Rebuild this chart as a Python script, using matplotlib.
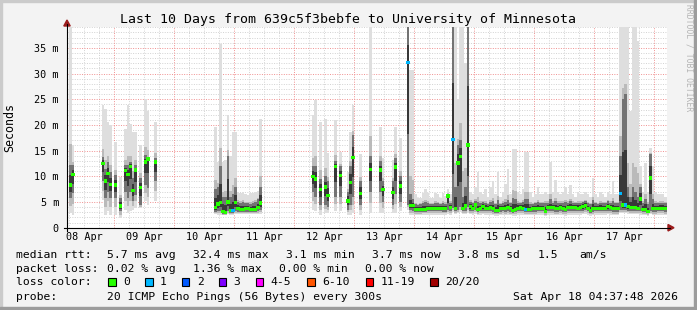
import numpy as np
import matplotlib
matplotlib.use("Agg")
import matplotlib.pyplot as plt
from matplotlib.lines import Line2D
from matplotlib.patches import Polygon, Rectangle

# hourly steps, counted in hours from 08 Apr 00:00
hours = ([6, 7,
          19, 20, 21, 22, 24, 26, 28, 29, 30, 31, 32, 34, 36, 37, 40]
         + list(range(64, 83))
         + [103, 104, 106, 108, 109, 112, 114, 117, 118, 119, 122, 126, 130, 131, 135, 136, 138, 141]
         + list(range(142, 245)))

# median rtt (ms)
med = [8.3, 10.3,
       12.5, 9.1, 10.6, 8.4, 8.3, 4.2, 11.1, 10.4, 11.9, 7.3, 11.2, 7.8, 12.8, 13.4, 12.8,
       3.9, 4.6, 4.9, 3.2, 3.0, 5.0, 3.4, 3.4, 4.9, 3.7, 3.6, 3.6, 3.7, 3.7, 3.6, 3.5, 3.6, 3.9, 4.8,
       10.0, 9.5, 7.4, 7.9, 6.3, 11.9, 10.1, 5.2, 8.8, 13.6, 6.7, 11.3, 11.2, 7.4, 6.8, 11.8, 8.1, 32.1,
       4.3, 4.3, 3.5, 3.5, 3.6, 3.6, 3.6, 3.8, 3.8, 3.8,
       3.8, 3.8, 3.8, 3.7, 3.7, 6.2, 3.9, 17.2, 3.8, 12.6,
       13.9, 3.8, 4.2, 16.1, 4.1, 3.8, 4.4, 3.5, 3.8, 4.1,
       3.8, 3.8, 3.9, 3.7, 3.3, 3.3, 3.7, 3.8, 3.7, 3.9,
       3.7, 3.3, 3.5, 3.8, 3.9, 3.8, 3.5, 3.5, 3.5, 3.7,
       3.7, 3.8, 3.8, 3.8, 3.2, 3.9, 3.9, 3.9, 3.7, 3.7,
       3.9, 3.7, 3.5, 3.9, 3.9, 3.9, 3.9, 3.8, 3.9, 4.1,
       4.3, 3.8, 3.4, 3.7, 3.8, 3.8, 3.8, 3.8, 3.8, 4.1,
       3.9, 3.7, 3.7, 3.7, 6.7, 4.4, 4.4, 4.1, 3.9, 3.9,
       3.9, 3.8, 5.6, 3.6, 3.6, 3.2, 9.7, 3.7, 3.7, 3.8,
       3.8, 3.8, 3.7]

# fastest ping (ms)
lo = [2.8, 2.5,
      5.4, 2.5, 3.2, 2.5, 2.5, 1.9, 3.5, 2.8, 3.2, 3.5, 3.8, 3.8, 5.1, 4.4, 5.1,
      2.6, 2.5, 2.4, 2.4, 2.4, 2.6, 2.5, 2.5, 2.6, 2.6, 2.6, 2.6, 2.6, 2.6, 2.6, 2.6, 2.6, 2.6, 2.7,
      3.5, 3.2, 2.5, 2.8, 2.8, 3.2, 3.2, 2.5, 2.5, 2.8, 2.5, 2.8, 2.8, 2.8, 2.8, 2.8, 3.2, 3.5,
      2.5, 2.5, 2.4, 2.4, 2.4, 2.5, 2.5, 2.5, 2.5, 2.5,
      2.5, 2.5, 2.5, 2.5, 2.5, 2.6, 2.5, 3.0, 2.6, 2.8,
      3.0, 2.6, 2.6, 2.8, 2.6, 2.5, 2.7, 2.4, 2.5, 2.6,
      2.5, 2.5, 2.5, 2.4, 2.3, 2.3, 2.4, 2.5, 2.4, 2.5,
      2.4, 2.3, 2.3, 2.5, 2.5, 2.5, 2.4, 2.4, 2.4, 2.4,
      2.4, 2.5, 2.5, 2.5, 2.2, 2.5, 2.5, 2.5, 2.4, 2.4,
      2.5, 2.4, 2.3, 2.5, 2.5, 2.5, 2.5, 2.5, 2.5, 2.6,
      2.6, 2.5, 2.3, 2.4, 2.5, 2.5, 2.5, 2.5, 2.5, 2.6,
      2.5, 2.4, 2.4, 2.4, 2.8, 2.8, 2.8, 2.7, 2.6, 2.6,
      2.6, 2.6, 2.5, 2.4, 2.4, 2.2, 2.6, 2.4, 2.4, 2.5,
      2.5, 2.5, 2.4]

# lower quartile of the pings (ms)
q1 = [5.7, 6.7,
      9.0, 5.7, 7.0, 5.7, 5.7, 3.2, 7.0, 5.7, 7.0, 5.1, 6.4, 4.4, 8.3, 7.7, 9.0,
      3.0, 3.2, 3.2, 2.7, 2.7, 3.3, 2.9, 2.9, 3.2, 3.1, 3.1, 3.1, 3.1, 3.1, 3.1, 3.0, 3.1, 3.2, 3.4,
      7.0, 6.0, 4.5, 4.5, 4.0, 6.0, 6.0, 3.5, 4.5, 6.0, 4.5, 7.0, 7.0, 5.0, 4.5, 6.5, 5.0, 4.5,
      3.4, 3.3, 3.0, 3.0, 3.0, 3.1, 3.1, 3.2, 3.2, 3.2,
      3.2, 3.2, 3.2, 3.1, 3.1, 3.4, 3.2, 3.8, 3.2, 3.5,
      4.0, 3.2, 3.3, 4.0, 3.3, 3.2, 3.5, 3.0, 3.2, 3.3,
      3.2, 3.2, 3.2, 3.1, 2.9, 2.9, 3.1, 3.2, 3.1, 3.2,
      3.1, 2.9, 3.0, 3.2, 3.2, 3.2, 3.0, 3.0, 3.0, 3.1,
      3.1, 3.2, 3.2, 3.2, 2.8, 3.2, 3.2, 3.2, 3.1, 3.1,
      3.2, 3.1, 3.0, 3.2, 3.2, 3.2, 3.2, 3.2, 3.2, 3.3,
      3.4, 3.2, 2.9, 3.1, 3.2, 3.2, 3.2, 3.2, 3.2, 3.3,
      3.2, 3.1, 3.1, 3.1, 3.5, 3.4, 3.4, 3.3, 3.2, 3.2,
      3.2, 3.2, 3.2, 3.0, 3.0, 2.8, 3.3, 3.1, 3.1, 3.2,
      3.2, 3.2, 3.1]

# upper quartile of the pings (ms)
q3 = [12.2, 12.2,
      13.8, 11.5, 12.8, 10.9, 10.3, 5.7, 12.2, 12.2, 12.8, 9.6, 12.2, 9.6, 14.1, 13.8, 13.5,
      7.5, 8.0, 12.0, 6.0, 6.0, 14.0, 6.0, 6.5, 8.0, 5.0, 4.8, 5.0, 4.8, 4.8, 4.6, 4.8, 5.0, 5.5, 8.0,
      12.0, 12.0, 9.5, 10.0, 9.0, 13.0, 12.0, 7.0, 12.0, 18.0, 9.0, 14.0, 13.0, 9.0, 9.0, 13.5, 10.0, 39.0,
      6.5, 5.5, 4.6, 4.5, 4.6, 4.8, 5.0, 4.8, 4.6, 4.7,
      4.8, 4.8, 4.6, 4.8, 4.7, 6.6, 4.9, 39.0, 8.0, 16.0,
      17.0, 6.0, 8.0, 39.0, 5.0, 4.8, 5.2, 5.0, 4.8, 5.0,
      4.9, 4.7, 5.0, 5.2, 4.6, 5.4, 4.7, 4.8, 5.0, 5.4,
      4.8, 5.8, 5.6, 4.9, 4.8, 5.0, 5.6, 5.6, 4.7, 4.7,
      4.8, 5.0, 4.8, 4.8, 4.8, 4.9, 5.5, 4.9, 5.2, 4.9,
      4.9, 4.8, 5.0, 4.9, 5.2, 4.9, 4.8, 4.9, 4.9, 5.0,
      5.2, 4.8, 4.6, 5.4, 4.8, 4.7, 4.9, 4.8, 4.8, 5.1,
      4.9, 5.2, 4.8, 4.8, 14.0, 25.0, 26.0, 8.0, 6.0, 8.0,
      7.0, 6.0, 8.0, 4.8, 5.5, 4.6, 14.4, 5.5, 4.8, 4.8,
      4.9, 4.9, 4.8]

# slowest ping (ms)
hi = [39.0, 16.1,
      23.8, 23.1, 20.6, 19.9, 16.7, 9.9, 19.3, 23.8, 20.2, 18.6, 18.6, 16.1, 25.0, 22.8, 20.6,
      19.6, 12.8, 35.7, 12.8, 13.2, 21.9, 14.0, 18.6, 18.6, 7.0, 6.8, 7.0, 6.6, 6.4, 6.8, 6.8, 7.0, 7.2, 21.2,
      21.9, 24.8, 20.6, 21.2, 14.5, 20.9, 14.7, 10.9, 18.6, 23.8, 14.4, 39.0, 19.6, 13.5, 13.2, 19.6, 17.4, 39.0,
      30.6, 30.6, 6.5, 5.8, 5.8, 6.8, 7.6, 6.8, 5.8, 5.8,
      6.8, 6.5, 5.8, 6.8, 6.2, 7.5, 6.5, 39.0, 39.0, 25.0,
      39.0, 39.0, 32.0, 39.0, 7.0, 6.5, 8.0, 10.9, 7.0, 6.5,
      7.5, 6.0, 8.0, 9.0, 6.5, 10.9, 6.0, 7.0, 8.5, 11.5,
      6.5, 15.4, 15.4, 7.0, 6.5, 7.5, 14.8, 14.8, 7.0, 6.0,
      6.5, 8.0, 6.5, 6.5, 7.0, 6.5, 12.8, 7.0, 9.3, 7.0,
      6.5, 7.0, 8.0, 6.5, 8.3, 6.5, 6.0, 7.0, 6.5, 6.5,
      7.0, 6.5, 6.0, 9.6, 6.5, 6.0, 7.0, 6.5, 6.0, 7.0,
      6.5, 9.0, 6.5, 6.5, 39.0, 39.0, 39.0, 39.0, 22.8, 39.0,
      39.0, 36.4, 12.0, 7.0, 12.5, 7.0, 15.5, 12.0, 7.0, 6.5,
      6.5, 6.5, 6.0]

# hours with lost pings (all others lost none)
lossy_hours = [71, 141, 159, 188, 226, 228]
lossy_pings = [1, 1, 1, 1, 1, 1]

day_labels = ["08 Apr", "09 Apr", "10 Apr", "11 Apr", "12 Apr",
              "13 Apr", "14 Apr", "15 Apr", "16 Apr", "17 Apr"]
y_ticks = [0, 5, 10, 15, 20, 25, 30, 35]
y_tick_labels = ["0", "5 m", "10 m", "15 m", "20 m", "25 m", "30 m", "35 m"]

loss_labels = ["0", "1", "2", "3", "4-5", "6-10", "11-19", "20/20"]
loss_colors = ["#26ff00", "#00b8ff", "#0059ff", "#7e00ff",
               "#ff00ff", "#ff5500", "#ff0000", "#a10000"]
loss_upper = [0, 1, 2, 3, 5, 10, 19, 20]

W, H = 697, 310
MONO = "DejaVu Sans Mono"
plt.rcParams["font.family"] = MONO


def fx(x):
    return x / W


def fy(y):
    return 1 - y / H


fig = plt.figure(figsize=(W / 100, H / 100), dpi=100, facecolor="#f3f3f3")
ax = fig.add_axes([fx(67), fy(227.7), 600 / W, 200.4 / H])
ax.set_facecolor("white")
ax.set_xlim(5.08, 245.08)
ax.set_ylim(0, 39)

h = np.array(hours, float)
m = np.array(med)
lo_a, q1_a, q3_a, hi_a = map(np.array, (lo, q1, q3, hi))
assert len(h) == len(m) == len(lo_a) == len(q1_a) == len(q3_a) == len(hi_a)

# grid
minor = dict(color="#d2d2d2", lw=0.7, ls=(0, (1, 1.5)), zorder=0.5)
major = dict(color="#f09090", lw=0.7, ls=(0, (1, 1.5)), zorder=0.6)
for hr in range(6, 246, 6):
    ax.axvline(hr, **(major if hr % 24 == 0 else minor))
for v in range(1, 40):
    ax.axhline(v, **(major if v % 5 == 0 else minor))

# smoke: light outer band, darker inner bands
bar = dict(width=1, align="edge", linewidth=0, antialiased=False)
ax.bar(h, hi_a - lo_a, bottom=lo_a, color="#dedede", zorder=1, **bar)
mlo = (lo_a + q1_a) / 2
mhi = q3_a + (hi_a - q3_a) * 0.15
ax.bar(h, mhi - mlo, bottom=mlo, color="#bababa", zorder=1.1, **bar)
ax.bar(h, q3_a - q1_a, bottom=q1_a, color="#737373", zorder=1.2, **bar)
clo = (q1_a + m) / 2
chi = (m + q3_a) / 2
ax.bar(h, chi - clo, bottom=clo, color="#383838", zorder=1.3, **bar)

# median, coloured by packet loss
lost = dict(zip(lossy_hours, lossy_pings))
cls = np.array([next(i for i, u in enumerate(loss_upper) if lost.get(hr, 0) <= u)
                for hr in hours])
thick = 0.65
for c in np.unique(cls):
    sel = cls == c
    ax.bar(h[sel] - 0.15, thick, bottom=m[sel] - thick / 2, width=1.3, align="edge",
           color=loss_colors[c], linewidth=0, zorder=3)

ax.set_xticks([12 + 24 * i for i in range(len(day_labels))])
ax.set_xticklabels(day_labels, fontsize=7.3)
ax.set_yticks(y_ticks)
ax.set_yticklabels(y_tick_labels, fontsize=7.3)
ax.tick_params(axis="x", length=0, pad=3.2)
ax.tick_params(axis="y", length=0, pad=5.8)
for s in ax.spines.values():
    s.set_visible(False)

# axes with arrows
tf = fig.transFigure
fig.add_artist(Line2D([fx(64), fx(670)], [fy(227.7), fy(227.7)], color="black", lw=0.8, transform=tf))
fig.add_artist(Line2D([fx(67), fx(67)], [fy(230.5), fy(24)], color="black", lw=0.8, transform=tf))
fig.add_artist(Polygon([(fx(668), fy(224.5)), (fx(668), fy(231)), (fx(674), fy(227.7))],
                       closed=True, color="#9b1c1c", transform=tf))
fig.add_artist(Polygon([(fx(63.8), fy(26)), (fx(70.2), fy(26)), (fx(67), fy(20))],
                       closed=True, color="#9b1c1c", transform=tf))

# frame shading
fig.add_artist(Rectangle((0, fy(2)), 1, 2 / H, color="#cbcbcb", transform=tf))
fig.add_artist(Rectangle((0, 0), 2 / W, 1, color="#cbcbcb", transform=tf))
fig.add_artist(Rectangle((fx(694), 0), 3 / W, 1, color="#9c9c9c", transform=tf))
fig.add_artist(Rectangle((0, 0), 1, 3 / H, color="#9c9c9c", transform=tf))

fig.text(fx(348.5), fy(19), "Last 10 Days from 639c5f3bebfe to University of Minnesota",
         ha="center", va="center", fontsize=9.5)
fig.text(fx(10), fy(127), "Seconds", rotation=90, ha="center", va="center", fontsize=8.4)
fig.text(fx(688.5), fy(4), "RRDTOOL / TOBI OETIKER", rotation=270, ha="center", va="top",
         fontsize=5.8, color="#b4b4b4")

# legend
fs = 8.2
rows = [
    (258, [(16, "median rtt:"), (107.3, "5.7 ms avg"), (193.3, "32.4 ms max"), (286, "3.1 ms min"),
           (372.3, "3.7 ms now"), (458.3, "3.8 ms sd"), (537.7, "1.5"), (579, "am/s")]),
    (272, [(16, "packet loss:"), (107.3, "0.02 % avg"), (193.3, "1.36 % max"),
           (279.3, "0.00 % min"), (365.3, "0.00 % now")]),
    (285.3, [(16, "loss color:")]),
    (300, [(16, "probe:"), (107.3, "20 ICMP Echo Pings (56 Bytes) every 300s"),
           (513.3, "Sat Apr 18 04:37:48 2026")]),
]
for base, items in rows:
    for x, t in items:
        fig.text(fx(x), fy(base), t, ha="left", va="baseline", fontsize=fs)

box_x = [108.3, 145, 181.7, 218.7, 255.7, 307.3, 365.7, 430]
for bx, lab, col in zip(box_x, loss_labels, loss_colors):
    fig.add_artist(Rectangle((fx(bx), fy(285.5)), 7.5 / W, 8 / H, facecolor=col,
                             edgecolor="black", lw=0.8, transform=tf))
    fig.text(fx(bx + 15), fy(285.3), lab, ha="left", va="baseline", fontsize=fs)

fig.savefig("out.png", dpi=100, facecolor=fig.get_facecolor())
